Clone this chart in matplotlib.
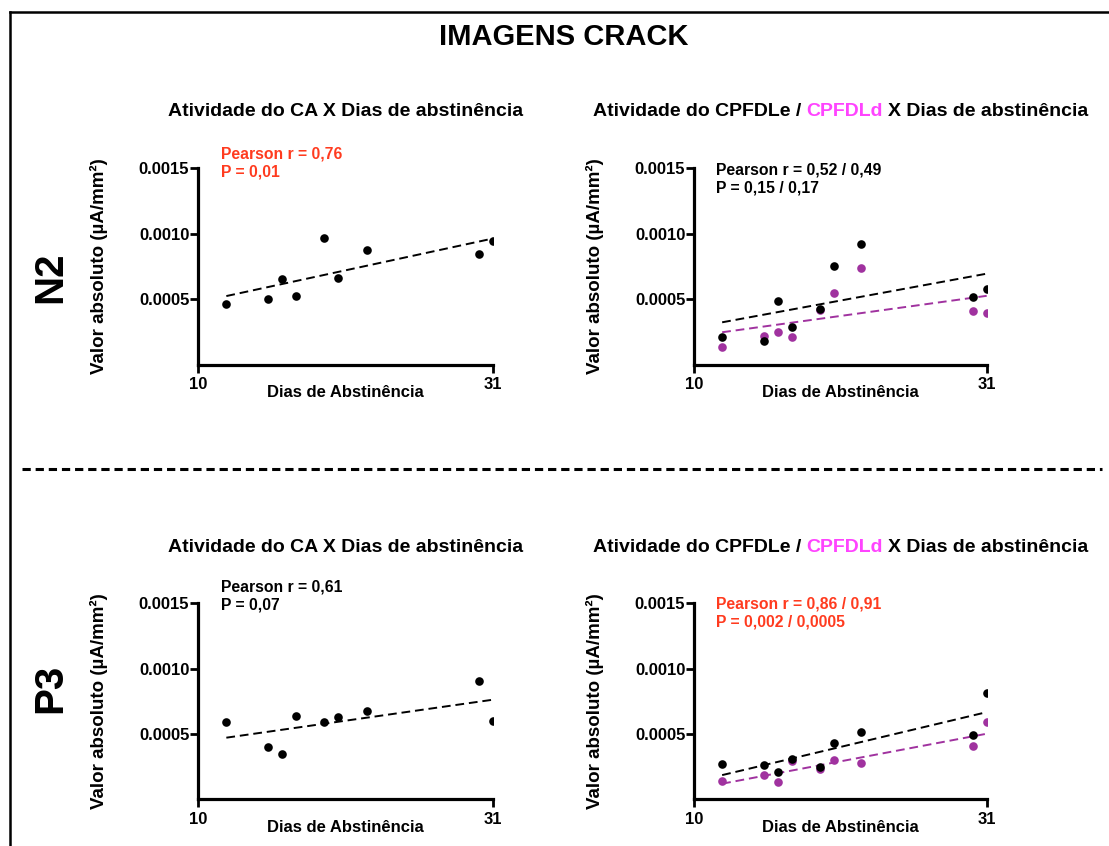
import numpy as np
import matplotlib
matplotlib.use("Agg")
import matplotlib.pyplot as plt
from matplotlib.lines import Line2D

plt.rcParams['font.family'] = ['Liberation Sans', 'DejaVu Sans']
plt.rcParams['font.weight'] = 'bold'

W, H = 1109, 846

# ---- data: days of abstinence and activity values ----
dias = [12, 15, 16, 17, 19, 20, 22, 30, 31]

n2_ca = [0.000460, 0.000498, 0.000652, 0.000521, 0.000966, 0.000662, 0.000877, 0.000846, 0.000943]
n2_cpfdle = [0.000211, 0.000178, 0.000486, 0.000288, 0.000423, 0.000751, 0.000919, 0.000519, 0.000581]
n2_cpfdld = [0.000132, 0.000216, 0.000247, 0.000211, 0.000420, 0.000545, 0.000736, 0.000407, 0.000395]

p3_ca = [0.000594, 0.000398, 0.000344, 0.000640, 0.000589, 0.000628, 0.000676, 0.000906, 0.000600]
p3_cpfdle = [0.000268, 0.000263, 0.000209, 0.000309, 0.000247, 0.000431, 0.000513, 0.000492, 0.000811]
p3_cpfdld = [0.000140, 0.000186, 0.000133, 0.000296, 0.000235, 0.000301, 0.000276, 0.000408, 0.000589]

x_ticks = [10, 31]
y_ticks = [0.0005, 0.0010, 0.0015]
y_tick_labels = ["0.0005", "0.0010", "0.0015"]

titulo_ca = "Atividade do CA X Dias de abstinência"
titulo_cpfdl = ["Atividade do CPFDLe /", "CPFDLd", "X Dias de abstinência"]

stats_n2_ca = ["Pearson r = 0,76", "P = 0,01"]
stats_n2_cpfdl = ["Pearson r = 0,52 / 0,49", "P = 0,15 / 0,17"]
stats_p3_ca = ["Pearson r = 0,61", "P = 0,07"]
stats_p3_cpfdl = ["Pearson r = 0,86 / 0,91", "P = 0,002 / 0,0005"]

BLACK = "#000000"
PURPLE = "#A0329F"
MAGENTA = "#FF44FF"
RED = "#FF3B1F"


def fx(px):
    return px / W


def fy(py):
    return 1 - py / H


fig = plt.figure(figsize=(W / 100, H / 100), dpi=100)
fig.patch.set_facecolor("white")


def make_axes(left_px, top_px, right_px, bottom_px):
    return fig.add_axes([fx(left_px), fy(bottom_px),
                         (right_px - left_px) / W, (bottom_px - top_px) / H])


def draw_panel(ax, series):
    x = np.array(dias, dtype=float)
    for vals, color in series:
        y = np.array(vals)
        ax.plot(x, y, 'o', color=color, ms=6.2, mec='none', zorder=3)
    for vals, color in series:
        y = np.array(vals)
        k, b = np.polyfit(x, y, 1)
        xs = np.array([x.min(), x.max()])
        ax.plot(xs, k * xs + b, color=color, lw=1.4, dashes=(4.5, 2.5), zorder=2)

    ax.set_xlim(10, 31)
    ax.set_ylim(0, 0.0015)
    ax.set_xticks(x_ticks)
    ax.set_yticks(y_ticks)
    ax.set_yticklabels(y_tick_labels)
    for s in ['top', 'right']:
        ax.spines[s].set_visible(False)
    for s in ['left', 'bottom']:
        ax.spines[s].set_linewidth(2.3)
        ax.spines[s].set_capstyle('projecting')
    ax.tick_params(axis='both', direction='out', length=5.5, width=2.0,
                   labelsize=12, pad=1)
    ax.tick_params(axis='x', pad=3.5)
    for lab in ax.get_xticklabels() + ax.get_yticklabels():
        lab.set_fontweight('bold')

    ax.set_xlabel("Dias de Abstinência", fontsize=12, fontweight='bold', va='top')
    ax.xaxis.set_label_coords(0.5, -0.104)
    ax.set_ylabel("Valor absoluto (µA/mm²)", fontsize=13.5, fontweight='bold', va='bottom')
    ax.yaxis.set_label_coords(-0.308, 0.5)


def stats_text(x_px, y_px, lines, color):
    fig.text(fx(x_px), fy(y_px), lines[0], fontsize=11.3, fontweight='bold',
             color=color, va='baseline', ha='left')
    fig.text(fx(x_px), fy(y_px + 18.5), lines[1], fontsize=11.3, fontweight='bold',
             color=color, va='baseline', ha='left')


fig.canvas.draw()
renderer = fig.canvas.get_renderer()


def text_width(s, size):
    t = fig.text(0, 0, s, fontsize=size, fontweight='bold')
    w = t.get_window_extent(renderer).width
    t.remove()
    return w


def multicolor_title(center_px, base_px, pieces, colors, size):
    space = text_width("x x", size) - text_width("xx", size)
    widths = [text_width(p, size) for p in pieces]
    total = sum(widths) + space * (len(pieces) - 1)
    x = center_px - total / 2
    for p, c, w in zip(pieces, colors, widths):
        fig.text(fx(x), fy(base_px), p, fontsize=size, fontweight='bold',
                 color=c, ha='left', va='baseline')
        x += w + space


# ---- four panels ----
ax1 = make_axes(198.3, 168.3, 492.7, 364.6)
draw_panel(ax1, [(n2_ca, BLACK)])
ax2 = make_axes(694.3, 168.3, 986.7, 364.6)
draw_panel(ax2, [(n2_cpfdld, PURPLE), (n2_cpfdle, BLACK)])
ax3 = make_axes(198.3, 603.3, 492.7, 799.3)
draw_panel(ax3, [(p3_ca, BLACK)])
ax4 = make_axes(694.3, 603.3, 986.7, 799.3)
draw_panel(ax4, [(p3_cpfdld, PURPLE), (p3_cpfdle, BLACK)])

# ---- titles ----
fig.text(fx(564), fy(45), "IMAGENS CRACK", fontsize=21, fontweight='bold',
         ha='center', va='baseline')

for top in (116.5, 551.5):
    fig.text(fx(345.5), fy(top), titulo_ca, fontsize=14, fontweight='bold',
             ha='center', va='baseline')
    multicolor_title(840.5, top, titulo_cpfdl, [BLACK, MAGENTA, BLACK], 14)

stats_text(220.7, 158.3, stats_n2_ca, RED)
stats_text(715.7, 174.3, stats_n2_cpfdl, BLACK)
stats_text(220.7, 591.0, stats_p3_ca, BLACK)
stats_text(715.7, 608.3, stats_p3_cpfdl, RED)

# row labels
fig.text(fx(50), fy(277), "N2", fontsize=29, fontweight='bold', rotation=90,
         ha='center', va='center')
fig.text(fx(50), fy(688), "P3", fontsize=29, fontweight='bold', rotation=90,
         ha='center', va='center')

# ---- frame and separator ----
fig.add_artist(Line2D([fx(9.5), fx(9.5)], [fy(12), 0], color='black', lw=1.8,
                      transform=fig.transFigure))
fig.add_artist(Line2D([fx(9.5), 1], [fy(12), fy(12)], color='black', lw=1.8,
                      transform=fig.transFigure))
fig.add_artist(Line2D([fx(22), fx(1102)], [fy(469), fy(469)], color='black', lw=2.2,
                      dashes=(2.7, 1.6), transform=fig.transFigure))

fig.savefig("out.png", dpi=100)
